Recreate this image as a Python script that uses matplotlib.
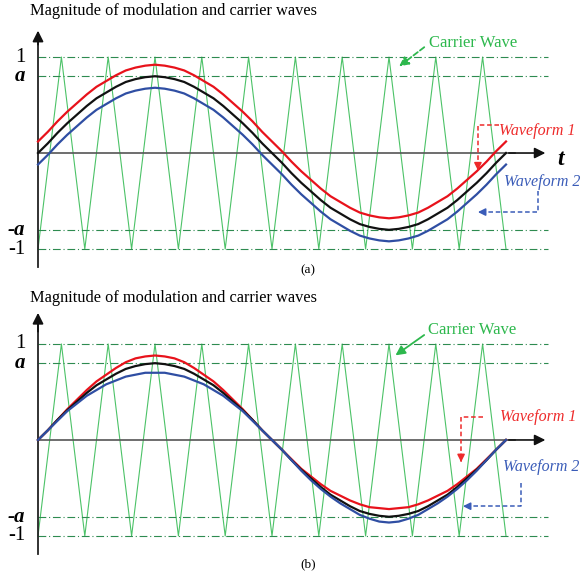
import numpy as np
import matplotlib
matplotlib.use("Agg")
import matplotlib.pyplot as plt

plt.rcParams['font.family'] = ['Liberation Serif', 'DejaVu Serif']

# values (y in units of carrier amplitude, t = one modulation period)
a = 0.8
levels = [1, a, -a, -1]
level_labels = ["1", "a", "-a", "-1"]
carrier_periods = 10
carrier_peak = [1, -1]

# curve samples read at t = 0, 1/48, ..., 1
t_read = np.linspace(0, 1, 49)
black_a = [0, 0.10, 0.21, 0.31, 0.40, 0.49, 0.57, 0.63, 0.69, 0.74, 0.77, 0.79, 0.80,
           0.79, 0.77, 0.74, 0.69, 0.63, 0.57, 0.49, 0.40, 0.31, 0.21, 0.10, 0,
           -0.10, -0.21, -0.31, -0.40, -0.49, -0.57, -0.63, -0.69, -0.74, -0.77, -0.79, -0.80,
           -0.79, -0.77, -0.74, -0.69, -0.63, -0.57, -0.49, -0.40, -0.31, -0.21, -0.10, 0]
red_a = [0.12, 0.22, 0.33, 0.43, 0.52, 0.61, 0.69, 0.75, 0.81, 0.86, 0.89, 0.91, 0.92,
         0.91, 0.89, 0.86, 0.81, 0.75, 0.69, 0.61, 0.52, 0.43, 0.33, 0.22, 0.12,
         0.02, -0.09, -0.19, -0.28, -0.37, -0.45, -0.51, -0.57, -0.62, -0.65, -0.67, -0.68,
         -0.67, -0.65, -0.62, -0.57, -0.51, -0.45, -0.37, -0.28, -0.19, -0.09, 0.02, 0.12]
blue_a = [-0.12, -0.02, 0.09, 0.19, 0.28, 0.37, 0.45, 0.51, 0.57, 0.62, 0.65, 0.67, 0.68,
          0.67, 0.65, 0.62, 0.57, 0.51, 0.45, 0.37, 0.28, 0.19, 0.09, -0.02, -0.12,
          -0.22, -0.33, -0.43, -0.52, -0.61, -0.69, -0.75, -0.81, -0.86, -0.89, -0.91, -0.92,
          -0.91, -0.89, -0.86, -0.81, -0.75, -0.69, -0.61, -0.52, -0.43, -0.33, -0.22, -0.12]
black_b = black_a
red_b = [0, 0.10, 0.21, 0.32, 0.42, 0.52, 0.61, 0.68, 0.75, 0.81, 0.85, 0.87, 0.88,
         0.87, 0.85, 0.81, 0.75, 0.68, 0.61, 0.52, 0.42, 0.32, 0.21, 0.10, 0,
         -0.10, -0.20, -0.30, -0.38, -0.46, -0.53, -0.58, -0.63, -0.67, -0.70, -0.71, -0.72,
         -0.71, -0.70, -0.67, -0.63, -0.58, -0.53, -0.46, -0.38, -0.30, -0.20, -0.10, 0]
blue_b = [0, 0.10, 0.20, 0.30, 0.38, 0.46, 0.52, 0.58, 0.62, 0.66, 0.68, 0.70, 0.70,
          0.70, 0.68, 0.66, 0.62, 0.58, 0.52, 0.46, 0.38, 0.30, 0.20, 0.10, 0,
          -0.10, -0.21, -0.32, -0.42, -0.51, -0.59, -0.66, -0.72, -0.78, -0.82, -0.85, -0.86,
          -0.85, -0.82, -0.78, -0.72, -0.66, -0.59, -0.51, -0.42, -0.32, -0.21, -0.10, 0]
curve_colors = ["#e8121b", "#111111", "#2f4ea3"]

green = "#2db84d"
dark_green = "#2e8b50"
red = "#ee2a2a"
blue = "#3a5cb8"

title = "Magnitude of modulation and carrier waves"

fig = plt.figure(figsize=(5.85, 5.76), dpi=100)
ax_top = fig.add_axes([0, 0.5, 1, 0.5])
ax_bot = fig.add_axes([0, 0, 1, 0.5])

# carrier triangle vertices: start at -1, alternate peaks
ct = np.linspace(0, 1, 2 * carrier_periods + 1)
cy = np.array([carrier_peak[(i + 1) % 2] for i in range(len(ct))])


def draw_frame(ax, y0, y1, sub, panel):
    ax.set_xlim(-0.0812, 1.1688)
    ax.set_ylim(y0, y1)
    ax.axis("off")
    # carrier wave
    ax.plot(ct, cy, color=green, lw=0.8, alpha=0.85)
    # level lines
    for lv in levels:
        ax.plot([0, 1.09], [lv, lv], color=dark_green, lw=0.8,
                dashes=(7, 2.5, 1, 2.5))
    # axes with arrows
    ax.plot([0, 0], [-1.19, 1.2], color="#222222", lw=1.3)
    ax.annotate("", xy=(0, y1 - 0.29 if panel == "a" else y1 - 0.23), xytext=(0, 1.1),
                arrowprops=dict(arrowstyle="-|>", color="#111111", lw=1.3,
                                mutation_scale=16))
    ax.plot([0, 1.02], [0, 0], color="#555555", lw=1.2)
    ax.annotate("", xy=(1.09, 0), xytext=(1.0, 0),
                arrowprops=dict(arrowstyle="-|>", color="#111111", lw=1.2,
                                mutation_scale=16))
    for lv, lab in zip(levels, level_labels):
        if "a" in lab:
            ax.text(-0.028, lv, lab, ha="right", va="center", fontsize=15,
                    fontweight="bold", style="italic")
        else:
            ax.text(-0.026, lv, lab, ha="right", va="center", fontsize=15)
    ax.text(-0.017, 1.48, title, ha="left", va="center", fontsize=11.8)
    ax.text(0.577, sub, "(" + panel + ")", ha="center", va="center", fontsize=9.5)


def bracket(ax, pts, color):
    # dashed elbow line ending in a solid arrow head
    xs = [p[0] for p in pts]
    ys = [p[1] for p in pts]
    end = (xs[-1] - 0.15 * (xs[-1] - xs[-2]), ys[-1] - 0.15 * (ys[-1] - ys[-2]))
    ax.plot(xs[:-1] + [end[0]], ys[:-1] + [end[1]], color=color, lw=1.1,
            dashes=(3, 1.8))
    ax.annotate("", xy=pts[-1], xytext=end,
                arrowprops=dict(arrowstyle="-|>", color=color, lw=1.1,
                                mutation_scale=11))


# ---- panel (a)
draw_frame(ax_top, -1.406, 1.594, -1.22, "a")
for ys, col in zip([red_a, black_a, blue_a], curve_colors):
    ax_top.plot(t_read, ys, color=col, lw=1.6, solid_joinstyle="round")
ax_top.text(1.117, -0.07, "t", fontsize=17, fontweight="bold", style="italic",
            ha="center", va="center")
ax_top.text(0.835, 1.146, "Carrier Wave", color=green, fontsize=12,
            ha="left", va="center")
ax_top.annotate("", xy=(0.767, 0.885), xytext=(0.83, 1.12),
                arrowprops=dict(arrowstyle="-|>", color=green, lw=1.3,
                                linestyle=(0, (3, 1.5)), mutation_scale=14))
ax_top.text(0.985, 0.23, "Waveform 1", color=red, fontsize=11.5, style="italic",
            ha="left", va="center")
bracket(ax_top, [(0.985, 0.29), (0.94, 0.29), (0.94, -0.21)], red)
ax_top.text(0.996, -0.30, "Waveform 2", color=blue, fontsize=11.5, style="italic",
            ha="left", va="center")
bracket(ax_top, [(1.068, -0.40), (1.068, -0.615), (0.934, -0.615)], blue)

# ---- panel (b)
draw_frame(ax_bot, -1.417, 1.583, -1.29, "b")
for ys, col in zip([red_b, black_b, blue_b], curve_colors):
    ax_bot.plot(t_read, ys, color=col, lw=1.6, solid_joinstyle="round")
ax_bot.text(0.833, 1.146, "Carrier Wave", color=green, fontsize=12,
            ha="left", va="center")
ax_bot.annotate("", xy=(0.759, 0.865), xytext=(0.83, 1.11),
                arrowprops=dict(arrowstyle="-|>", color=green, lw=1.3,
                                mutation_scale=14))
ax_bot.text(0.987, 0.24, "Waveform 1", color=red, fontsize=11.5, style="italic",
            ha="left", va="center")
bracket(ax_bot, [(0.951, 0.24), (0.904, 0.24), (0.904, -0.26)], red)
ax_bot.text(0.994, -0.28, "Waveform 2", color=blue, fontsize=11.5, style="italic",
            ha="left", va="center")
bracket(ax_bot, [(1.032, -0.45), (1.032, -0.69), (0.902, -0.69)], blue)

fig.savefig("out.png", dpi=100)
